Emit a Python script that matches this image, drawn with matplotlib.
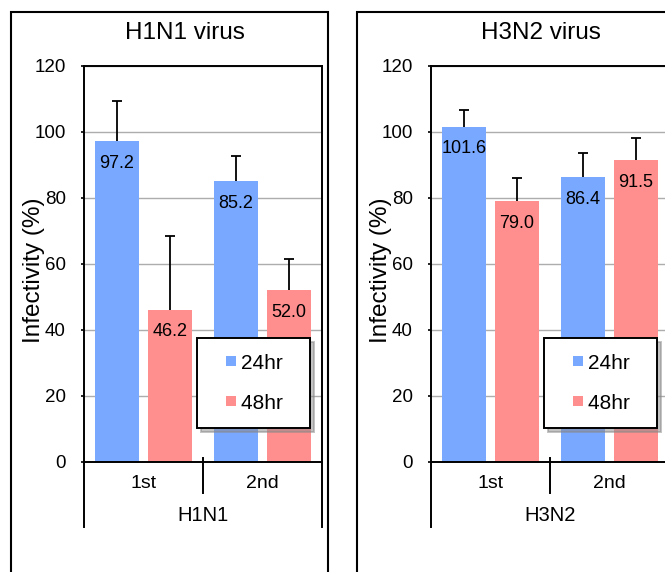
import matplotlib
matplotlib.use("Agg")
import matplotlib.pyplot as plt
from matplotlib.patches import Rectangle, Patch
from matplotlib.legend_handler import HandlerPatch

plt.rcParams["font.family"] = ["Liberation Sans", "DejaVu Sans"]

# data
categories = ["1st", "2nd"]
series = ["24hr", "48hr"]
panel_titles = ["H1N1 virus", "H3N2 virus"]
group_labels = ["H1N1", "H3N2"]

h1n1_24 = [97.2, 85.2]
h1n1_48 = [46.2, 52.0]
h1n1_24_err = [12.2, 7.5]
h1n1_48_err = [22.2, 9.4]

h3n2_24 = [101.6, 86.4]
h3n2_48 = [79.0, 91.5]
h3n2_24_err = [5.1, 7.3]
h3n2_48_err = [7.0, 6.6]

yticks = [0, 20, 40, 60, 80, 100, 120]

blue = "#78A8FF"
pink = "#FF8F8F"

W, H = 665, 572
fig = plt.figure(figsize=(W / 100, H / 100), dpi=100)

# panel frames (bottom / right edges run off the image)
fig.patches.append(Rectangle((11 / W, -0.1), (328 - 11) / W, (H - 12) / H + 0.1,
                             transform=fig.transFigure, fill=False,
                             edgecolor="black", linewidth=1.5))
fig.patches.append(Rectangle((357 / W, -0.1), 0.6, (H - 12) / H + 0.1,
                             transform=fig.transFigure, fill=False,
                             edgecolor="black", linewidth=1.5))


def small_square(legend, orig_handle, xdescent, ydescent, width, height, fontsize):
    s = 0.48 * fontsize
    return Rectangle((-xdescent + width - s, -ydescent + (height - s) / 2), s, s)


panels = [
    (84, h1n1_24, h1n1_48, h1n1_24_err, h1n1_48_err, 185),
    (431, h3n2_24, h3n2_48, h3n2_24_err, h3n2_48_err, 541),
]

x = [0.5, 1.5]
off = 0.223
bw = 0.37

for i, (left, v24, v48, e24, e48, tx) in enumerate(panels):
    ax = fig.add_axes([left / W, (H - 462) / H, 238 / W, 396 / H])
    ax.set_xlim(0, 2)
    ax.set_ylim(0, 120)
    ax.set_yticks(yticks)
    ax.yaxis.grid(True, color="#ADADAD", linewidth=1)
    ax.set_axisbelow(True)
    for s in ax.spines.values():
        s.set_linewidth(1.4)
        s.set_color("black")

    x24 = [c - off for c in x]
    x48 = [c + off for c in x]
    ax.bar(x24, v24, bw, color=blue, zorder=2)
    ax.bar(x48, v48, bw, color=pink, zorder=2)
    for xs, vs, es in ((x24, v24, e24), (x48, v48, e48)):
        eb = ax.errorbar(xs, vs, yerr=[[0] * len(es), es], fmt="none", ecolor="black",
                         elinewidth=1.3, capsize=3.6, capthick=1.3, zorder=1)
        eb[1][0].set_visible(False)  # no cap at the bar top

    for xs, vs in ((x24, v24), (x48, v48)):
        for xx, vv in zip(xs, vs):
            ax.annotate(f"{vv:.1f}", (xx, vv), xytext=(0, -16),
                        textcoords="offset points", ha="center", va="center",
                        fontsize=13, zorder=3)

    ax.set_xticks(x)
    ax.set_xticklabels(categories, fontsize=14)
    ax.tick_params(axis="x", length=0, pad=9)
    ax.tick_params(axis="y", labelsize=13.5, length=2.5, width=1.2, pad=10.5)

    ax.set_ylabel("Infectivity (%)", fontsize=17.5)
    ax.yaxis.set_label_coords(-0.165, 0.485)

    # category separators below the axis
    ax.plot([0, 0], [0, -0.164], color="black", lw=1.4, transform=ax.transAxes, clip_on=False)
    ax.plot([1, 1], [0, -0.164], color="black", lw=1.4, transform=ax.transAxes, clip_on=False)
    ax.plot([0.5, 0.5], [0.01, -0.078], color="black", lw=1.4, transform=ax.transAxes, clip_on=False)
    ax.text(0.5, -0.134, group_labels[i], transform=ax.transAxes, ha="center",
            va="center", fontsize=14.5)

    fig.text(tx / W, 1 - 33 / H, panel_titles[i], ha="center", va="center", fontsize=17.5)

    handles = [Patch(facecolor=blue), Patch(facecolor=pink)]
    leg = ax.legend(handles, [s + "  " for s in series], loc="upper left",
                    bbox_to_anchor=(0.475, 0.313), borderaxespad=0, fontsize=15,
                    fancybox=False, framealpha=1, edgecolor="black",
                    handlelength=1.1, handleheight=0.5, handletextpad=0.25,
                    labelspacing=1.0, borderpad=0.75,
                    handler_map={Patch: HandlerPatch(patch_func=small_square)},
                    shadow={"ox": 3, "oy": -3, "color": "#888888", "alpha": 0.5})
    leg.get_frame().set_linewidth(1.4)
    leg.set_zorder(5)

fig.savefig("out.png", dpi=100)
